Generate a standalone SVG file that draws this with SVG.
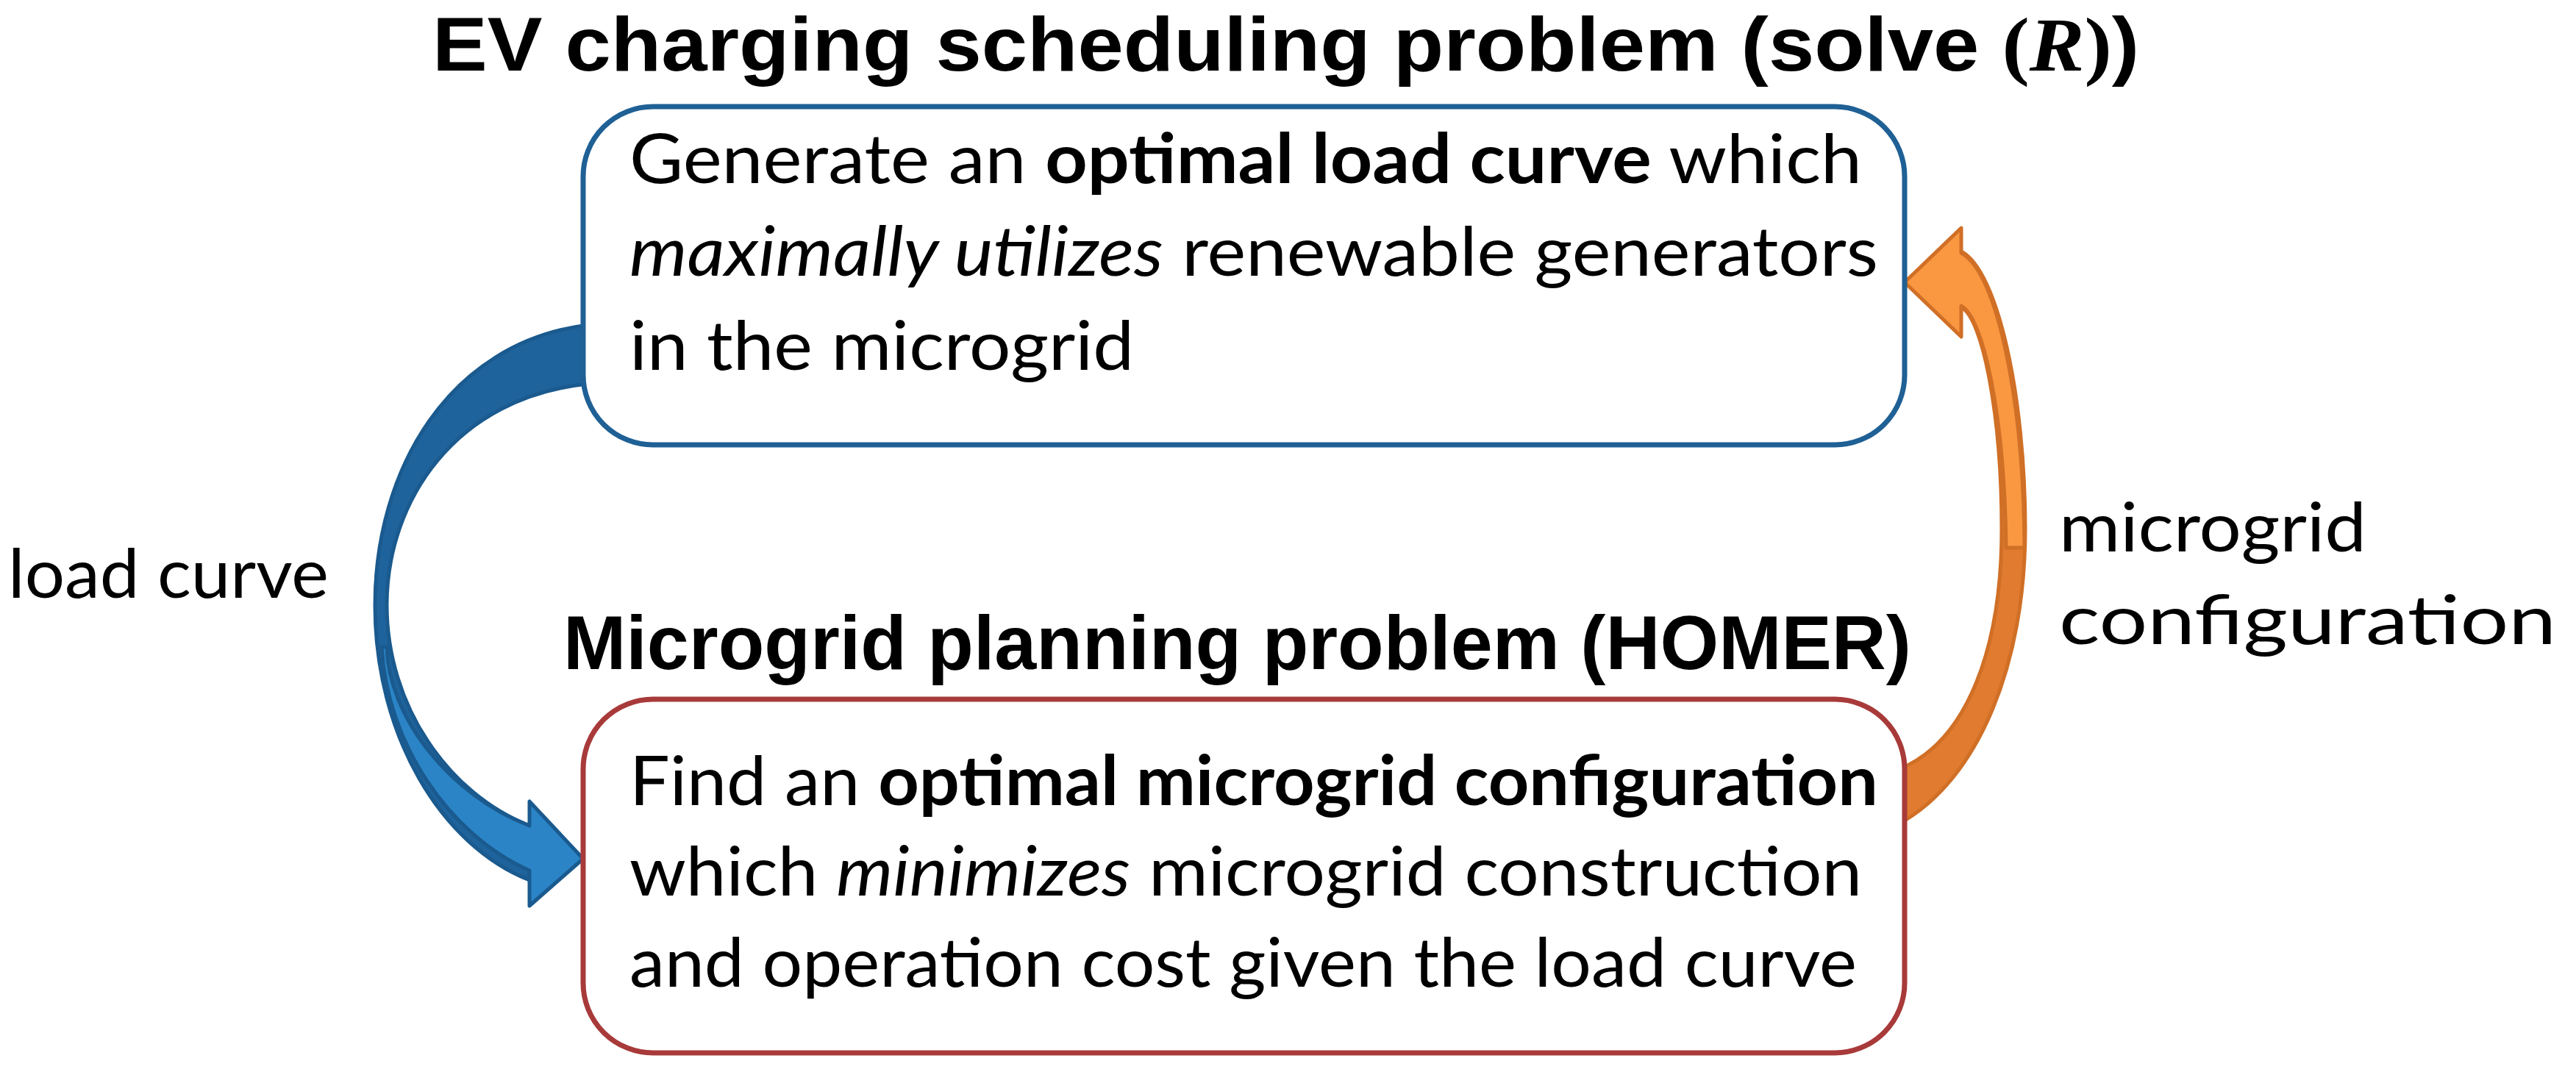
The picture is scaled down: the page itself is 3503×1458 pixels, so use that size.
<svg xmlns="http://www.w3.org/2000/svg" width="3503" height="1458" viewBox="0 0 3503 1458">
<style>
.title{font-family:"Liberation Sans",Arial,sans-serif;font-weight:bold;font-size:104px;fill:#000}
.math{font-family:"Liberation Serif","Times New Roman",serif;font-weight:bold}
.body{font-family:Lato,"Open Sans",sans-serif;font-size:94px;fill:#000}
.b{font-weight:bold}
.i{font-style:italic}
.box{fill:#fff;stroke-width:7}
.blue-back{fill:#1F639C;stroke:#1A5A8E;stroke-width:5;stroke-linejoin:round}
.blue-front{fill:#2B84C6;stroke:#1A5A8E;stroke-width:5;stroke-linejoin:round}
.orange-back{fill:#E07B2F;stroke:#D06F26;stroke-width:5;stroke-linejoin:round}
.orange-front{fill:#F99841;stroke:#D06F26;stroke-width:5;stroke-linejoin:round}
</style>
<rect width="3503" height="1458" fill="#fff"/>

<g id="connectors">
  <g id="arrow-load-curve">
    <path class="blue-back" d="M800,442 C610,465 510,640 510,823 C510,1000 600,1150 720,1197 L720,1123 C610,1080 526,960 526,823 C526,680 620,540 800,522 Z"/>
    <path class="blue-front" d="M519,880 C526,1010 610,1135 720,1184 L720,1232 L793,1168 L720,1090 L720,1123 C612,1082 528,975 526,880 Z"/>
  </g>
  <g id="arrow-microgrid-config">
    <path class="orange-back" d="M2667,342 C2717,368 2754,540 2754,720 C2754,900 2692,1060 2583,1120 L2583,1046 C2676,1008 2722,880 2722,720 C2722,565 2696,432 2667,418 Z"/>
    <path class="orange-front" d="M2753,745 C2752,550 2717,370 2667,344 L2667,310 L2590,384 L2667,458 L2667,416 C2697,432 2726,565 2728,745 Z"/>
  </g>
  <text id="label-load-curve" class="body" x="11" y="813" textLength="436" lengthAdjust="spacingAndGlyphs">load curve</text>
  <text class="body" x="2800" y="750" textLength="418" lengthAdjust="spacingAndGlyphs">microgrid</text>
  <text class="body" x="2800" y="876" textLength="676" lengthAdjust="spacingAndGlyphs">configuration</text>
</g>

<g id="node-ev-scheduling">
  <text class="title" x="588" y="96" textLength="2321" lengthAdjust="spacingAndGlyphs">EV charging scheduling problem (solve <tspan class="math">(</tspan><tspan class="math i">R</tspan><tspan class="math">)</tspan>)</text>
  <rect class="box" x="793" y="145" width="1797" height="460" rx="95" ry="95" stroke="#1F6095"/>
  <text class="body" x="856" y="249" textLength="1676" lengthAdjust="spacingAndGlyphs">Generate an <tspan class="b">optimal load curve</tspan> which</text>
  <text class="body" x="856" y="375" textLength="1698" lengthAdjust="spacingAndGlyphs"><tspan class="i">maximally utilizes</tspan> renewable generators</text>
  <text class="body" x="856" y="503" textLength="686" lengthAdjust="spacingAndGlyphs">in the microgrid</text>
</g>

<g id="node-microgrid-planning">
  <text class="title" x="766" y="910" textLength="1833" lengthAdjust="spacingAndGlyphs">Microgrid planning problem (HOMER)</text>
  <rect class="box" x="793" y="951" width="1797" height="481" rx="95" ry="95" stroke="#A83A3A"/>
  <text class="body" x="856" y="1095" textLength="1698" lengthAdjust="spacingAndGlyphs">Find an <tspan class="b">optimal microgrid configuration</tspan></text>
  <text class="body" x="856" y="1218" textLength="1676" lengthAdjust="spacingAndGlyphs">which <tspan class="i">minimizes</tspan> microgrid construction</text>
  <text class="body" x="856" y="1342" textLength="1669" lengthAdjust="spacingAndGlyphs">and operation cost given the load curve</text>
</g>
</svg>
